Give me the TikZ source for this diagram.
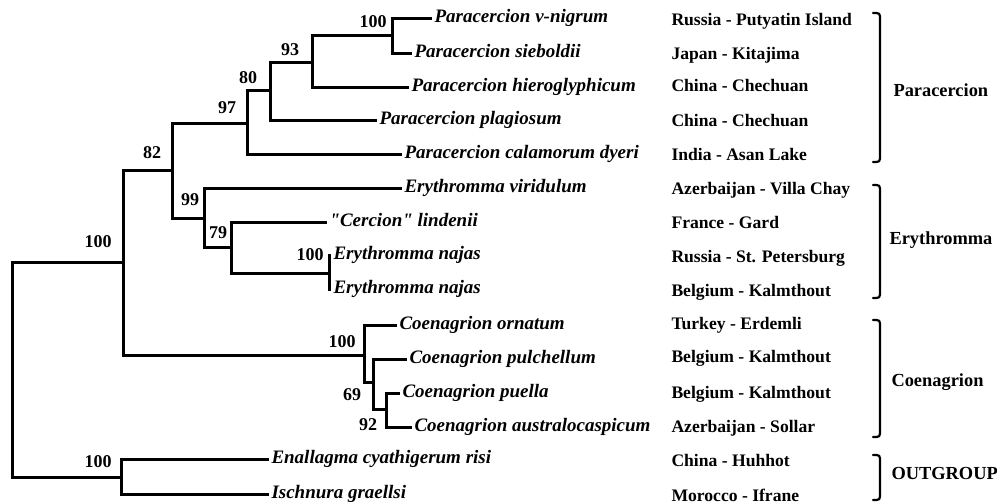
\documentclass[tikz,border=0pt]{standalone}
\usepackage{fontspec}
\setmainfont{Liberation Serif}
\begin{document}
\begin{tikzpicture}[x=0.5pt, y=-0.5pt, line width=1.5pt, line cap=rect,
    tip/.style={anchor=west, inner xsep=1.5pt, inner ysep=0pt, text height=0.7em, text depth=0.24em,
      font=\fontsize{9.5}{11}\selectfont\bfseries\itshape},
    place/.style={anchor=west, inner sep=0pt, text height=0.7em, text depth=0.24em,
      font=\fontsize{8.8}{10}\selectfont\bfseries},
    boot/.style={inner sep=0pt, font=\fontsize{9}{10}\selectfont\bfseries},
    group/.style={anchor=west, inner sep=0pt, font=\fontsize{9.2}{11}\selectfont\bfseries},
    brace/.style={line width=1.1pt, line cap=round}]
    \useasboundingbox (0,0) rectangle (997,503);

    % inner nodes of the tree
    \coordinate (root) at (12,262);
    \coordinate (cingroup) at (123,262);
    \coordinate (c82) at (172,170);
    \coordinate (c97) at (247,123);
    \coordinate (c80) at (270,90);
    \coordinate (c93) at (312,62);
    \coordinate (c100p) at (392,35);
    \coordinate (c99) at (204,218);
    \coordinate (c79) at (231,247);
    \coordinate (cnajas) at (329,273);
    \coordinate (ccoen) at (364,355);
    \coordinate (c69) at (373,382);
    \coordinate (c92) at (386,409);
    \coordinate (coutgroup) at (121,477);

    % taxa
    \node[tip] (vnigrum) at (430,18) {Paracercion v-nigrum};
    \node[tip] (sieboldii) at (410,53) {Paracercion sieboldii};
    \node[tip] (hiero) at (407,87) {Paracercion hieroglyphicum};
    \node[tip] (plagiosum) at (375,120) {Paracercion plagiosum};
    \node[tip] (calamorum) at (400,154) {Paracercion calamorum dyeri};
    \node[tip] (viridulum) at (400,188) {Erythromma viridulum};
    \node[tip] (lindenii) at (325,222) {\textquotedbl Cercion\textquotedbl{} lindenii};
    \node[tip] (najasA) at (329,255) {Erythromma najas};
    \node[tip] (najasB) at (329,289) {Erythromma najas};
    \node[tip] (ornatum) at (395,325) {Coenagrion ornatum};
    \node[tip] (pulchellum) at (405,359) {Coenagrion pulchellum};
    \node[tip] (puella) at (398,393) {Coenagrion puella};
    \node[tip] (austral) at (410,427) {Coenagrion australocaspicum};
    \node[tip] (enallagma) at (267,459) {Enallagma cyathigerum risi};
    \node[tip] (ischnura) at (267,494) {Ischnura graellsi};

    % branches
    \draw (root) |- (cingroup);
    \draw (root) |- (coutgroup);
    \draw (cingroup) |- (c82);
    \draw (cingroup) |- (ccoen);
    \draw (c82) |- (c97);
    \draw (c82) |- (c99);
    \draw (c97) |- (c80);
    \draw (c97) |- (calamorum.west);
    \draw (c80) |- (c93);
    \draw (c80) |- (plagiosum.west);
    \draw (c93) |- (c100p);
    \draw (c93) |- (hiero.west);
    \draw (c100p) |- (vnigrum.west);
    \draw (c100p) |- (sieboldii.west);
    \draw (c99) |- (viridulum.west);
    \draw (c99) |- (c79);
    \draw (c79) |- (lindenii.west);
    \draw (c79) |- (cnajas);
    \draw (cnajas) |- (najasA.west);
    \draw (cnajas) |- (najasB.west);
    \draw (ccoen) |- (ornatum.west);
    \draw (ccoen) |- (c69);
    \draw (c69) |- (pulchellum.west);
    \draw (c69) |- (c92);
    \draw (c92) |- (puella.west);
    \draw (c92) |- (austral.west);
    \draw (coutgroup) |- (enallagma.west);
    \draw (coutgroup) |- (ischnura.west);

    % bootstrap values
    \node[boot] (b100p) at (373,22) {100};
    \node[boot] (b93) at (290,50) {93};
    \node[boot] (b80) at (248,78) {80};
    \node[boot] (b97) at (227,108) {97};
    \node[boot] (b82) at (152,153) {82};
    \node[boot] (b99) at (190,200) {99};
    \node[boot] (b79) at (218,233) {79};
    \node[boot] (bnajas) at (310,255) {100};
    \node[boot] (bingroup) at (98,242) {100};
    \node[boot] (bcoen) at (342,342) {100};
    \node[boot] (b69) at (352,395) {69};
    \node[boot] (b92) at (368,425) {92};
    \node[boot] (bout) at (98,462) {100};

    % localities
    \foreach \y/\where [count=\i] in {21/Russia - Putyatin Island, 55/Japan - Kitajima,
        87/China - Chechuan, 122/China - Chechuan, 156/India - Asan Lake,
        190/Azerbaijan - Villa Chay, 224/France - Gard, 258/Russia - St. Petersburg,
        292/Belgium - Kalmthout, 325/Turkey - Erdemli, 358/Belgium - Kalmthout,
        394/Belgium - Kalmthout, 428/Azerbaijan - Sollar, 462/China - Huhhot,
        497/Morocco - Ifrane}
        \node[place] (loc\i) at (670,\y) {\where};

    % groups
    \foreach \ya/\yb in {13/162, 185/298, 320/437, 455/500}
        \draw[brace] (873,\ya) .. controls (880,\ya) .. (880,\ya+7) -- (880,\yb-7) .. controls (880,\yb) .. (873,\yb);
    \node[group] (gpara) at (892,90) {Paracercion};
    \node[group] (geryth) at (888,240) {Erythromma};
    \node[group] (gcoen) at (890,382) {Coenagrion};
    \node[group] (gout) at (890,473) {OUTGROUP};
\end{tikzpicture}
\end{document}
